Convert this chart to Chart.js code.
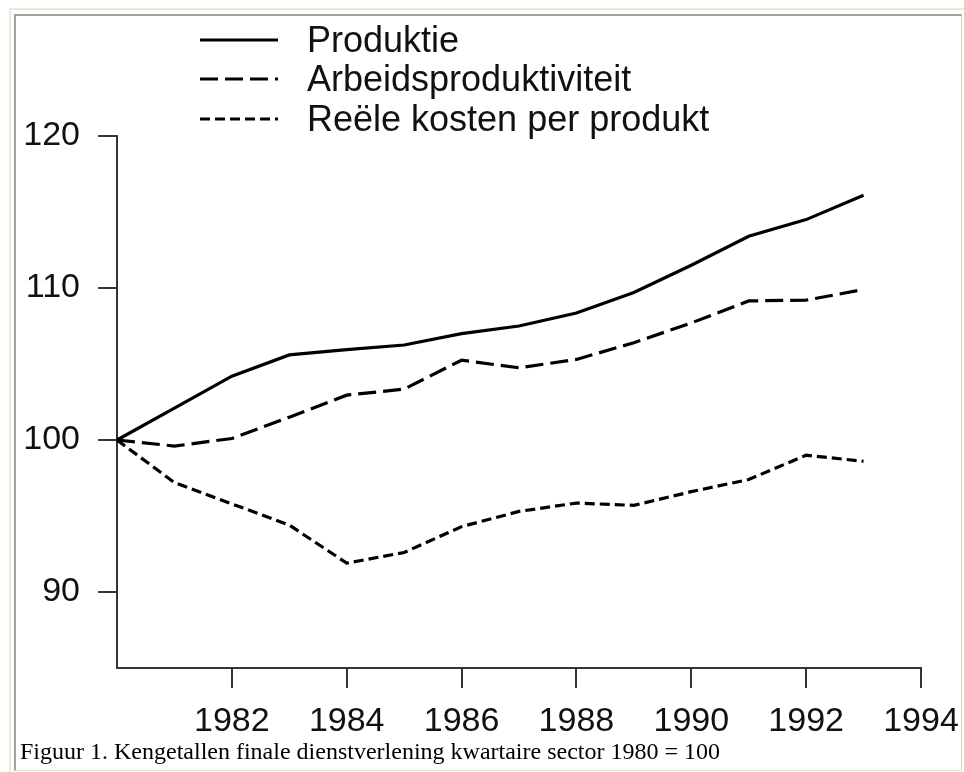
<!DOCTYPE html>
<html>
<head>
<meta charset="utf-8">
<script src="https://cdn.jsdelivr.net/npm/chart.js@4.4.1/dist/chart.umd.min.js"></script>
<style>
  html, body { margin: 0; padding: 0; background: #ffffff; }
  body { width: 964px; height: 772px; position: relative; overflow: hidden; }
  #outer { position: absolute; left: 9px; top: 8px; width: 955px; height: 764px; border-left: 2px solid #ece9d8; border-top: 2px solid #ece9d8; box-sizing: border-box; }
  #inner { position: absolute; left: 14px; top: 14px; width: 948px; height: 757px; border-left: 2px solid #a3a3a0; border-top: 2px solid #a3a3a0; border-right: 1px solid #d8d5c8; border-bottom: 1px solid #e6e3d6; box-sizing: border-box; }
  #wrap { position: absolute; left: 0; top: 0; width: 964px; height: 772px; }
  #caption { position: absolute; left: 20px; top: 739px; font-family: 'Liberation Serif', 'Times New Roman', serif; font-size: 24px; line-height: 24px; color: #000; white-space: nowrap; }
</style>
</head>
<body>
<div id="outer"></div>
<div id="inner"></div>
<div id="wrap"><canvas id="c" width="964" height="772"></canvas></div>
<div id="caption">Figuur 1. Kengetallen finale dienstverlening kwartaire sector 1980 = 100</div>
<script>
const years = [1980, 1981, 1982, 1983, 1984, 1985, 1986, 1987, 1988, 1989, 1990, 1991, 1992, 1993];
const produktie = [100, 102.1, 104.2, 105.6, 105.95, 106.25, 107.0, 107.5, 108.35, 109.7, 111.5, 113.4, 114.5, 116.1];
const arbeidsproduktiviteit = [100, 99.6, 100.1, 101.5, 102.95, 103.35, 105.25, 104.75, 105.3, 106.4, 107.7, 109.15, 109.2, 109.9];
const reeleKosten = [100, 97.2, 95.8, 94.4, 91.9, 92.6, 94.3, 95.3, 95.85, 95.7, 96.6, 97.4, 99.0, 98.6];
const seriesNames = ['Produktie', 'Arbeidsproduktiviteit', 'Reële kosten per produkt'];
const xTicks = [1982, 1984, 1986, 1988, 1990, 1992, 1994];
const yTicks = [90, 100, 110, 120];

const toPoints = vals => vals.map((v, i) => ({ x: years[i], y: v }));

const legendPlugin = {
  id: 'customLegend',
  afterDraw(chart) {
    const ctx = chart.ctx;
    const rows = [40, 79, 119];
    ctx.save();
    chart.data.datasets.forEach((ds, i) => {
      const y = rows[i];
      ctx.beginPath();
      ctx.setLineDash(ds.borderDash || []);
      ctx.lineWidth = ds.borderWidth;
      ctx.strokeStyle = ds.borderColor;
      ctx.moveTo(200, y);
      ctx.lineTo(278, y);
      ctx.stroke();
      ctx.setLineDash([]);
      ctx.fillStyle = '#111';
      ctx.font = '36px "Liberation Sans", Arial, sans-serif';
      ctx.textBaseline = 'middle';
      ctx.textAlign = 'left';
      ctx.fillText(ds.label, 307, y + 2);
    });
    ctx.restore();
  }
};

new Chart(document.getElementById('c'), {
  type: 'line',
  data: {
    datasets: [
      { label: seriesNames[0], data: toPoints(produktie), borderColor: '#000', borderWidth: 3.2, borderDash: [], pointRadius: 0, fill: false, clip: false, tension: 0 },
      { label: seriesNames[1], data: toPoints(arbeidsproduktiviteit), borderColor: '#000', borderWidth: 3.2, borderDash: [18, 7], pointRadius: 0, fill: false, clip: false, tension: 0 },
      { label: seriesNames[2], data: toPoints(reeleKosten), borderColor: '#000', borderWidth: 3.2, borderDash: [10, 5], pointRadius: 0, fill: false, clip: false, tension: 0 }
    ]
  },
  options: {
    responsive: false,
    animation: false,
    devicePixelRatio: 1,
    layout: { padding: { left: 0, top: 136, right: 43, bottom: 0 } },
    plugins: { legend: { display: false }, tooltip: { enabled: false }, title: { display: false } },
    scales: {
      x: {
        type: 'linear',
        min: 1980,
        max: 1994,
        afterBuildTicks: s => { s.ticks = xTicks.map(v => ({ value: v })); },
        afterFit: s => { s.height = 104; s.paddingLeft = 0; s.paddingRight = 0; },
        border: { display: true, color: '#333', width: 2 },
        grid: { display: true, drawOnChartArea: false, drawTicks: true, tickLength: 20, color: '#333', lineWidth: 2 },
        ticks: { autoSkip: false, maxRotation: 0, padding: 13, color: '#111', font: { family: '"Liberation Sans", Arial, sans-serif', size: 34 }, callback: v => String(v) }
      },
      y: {
        type: 'linear',
        min: 85,
        max: 120,
        afterBuildTicks: s => { s.ticks = yTicks.map(v => ({ value: v })); },
        afterFit: s => { s.width = 117; s.paddingTop = 0; s.paddingBottom = 0; },
        border: { display: true, color: '#333', width: 2 },
        grid: { display: true, drawOnChartArea: false, drawTicks: true, tickLength: 19, color: '#333', lineWidth: 2 },
        ticks: { padding: 18, color: '#111', font: { family: '"Liberation Sans", Arial, sans-serif', size: 34 }, callback: v => String(v) }
      }
    }
  },
  plugins: [legendPlugin]
});
</script>
</body>
</html>
